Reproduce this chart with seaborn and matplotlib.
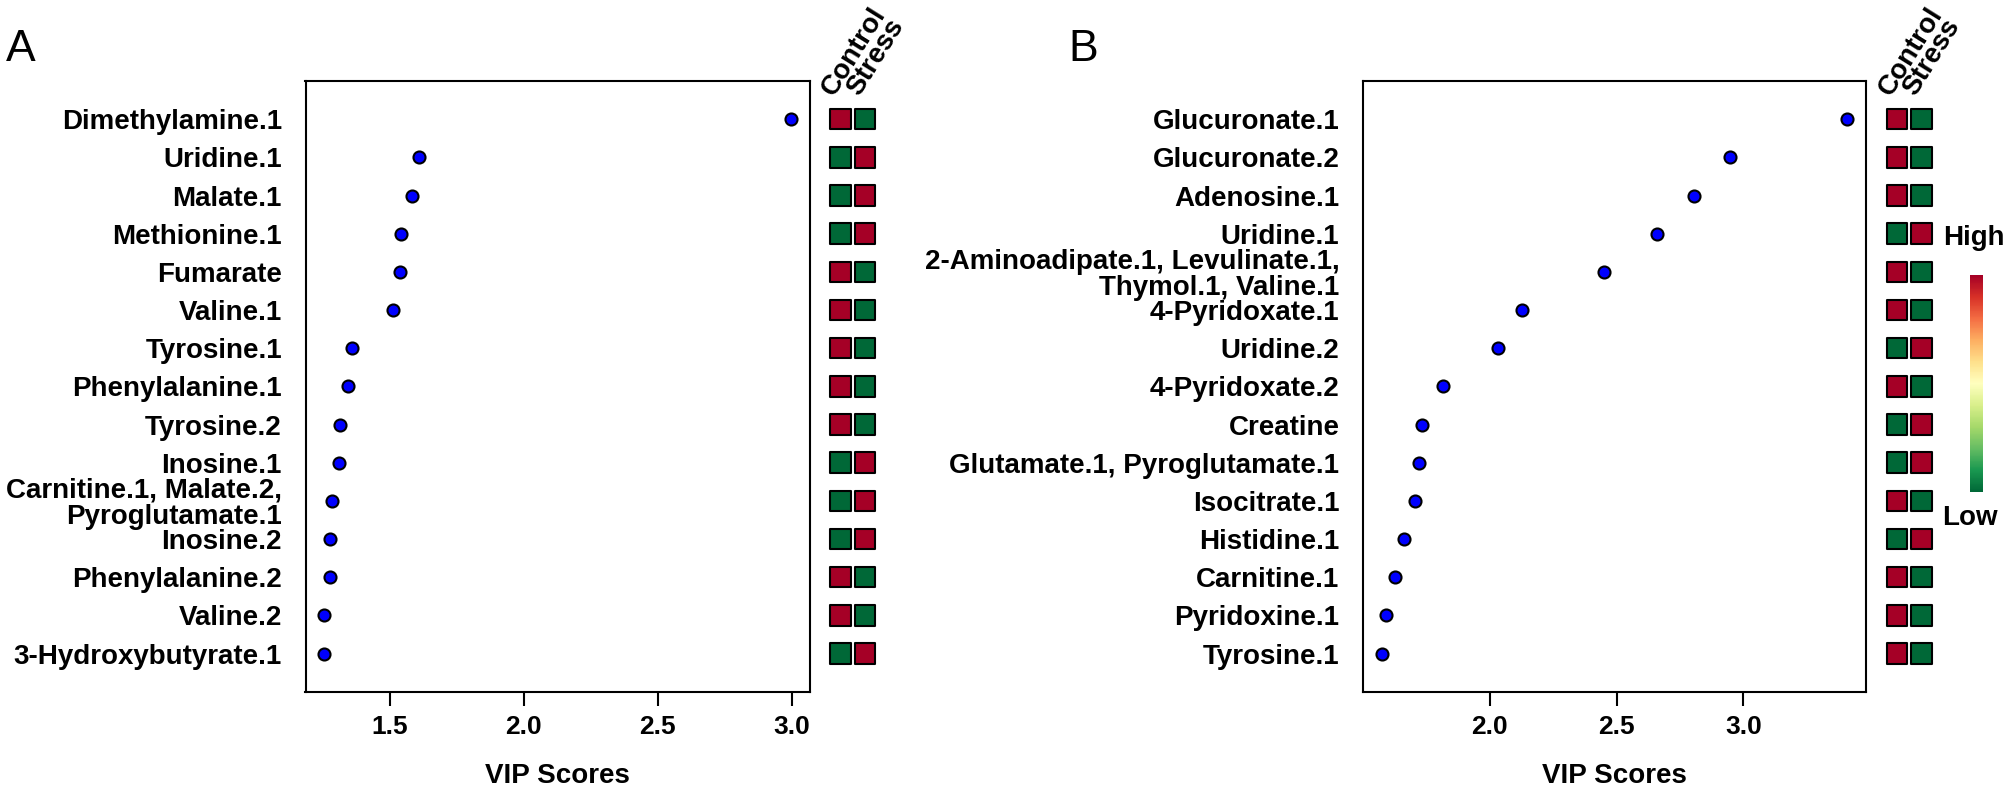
import numpy as np
import pandas as pd
import seaborn as sns
import matplotlib.pyplot as plt
from matplotlib.cm import ScalarMappable

# panel A: top VIP metabolites
names_a = ["Dimethylamine.1", "Uridine.1", "Malate.1", "Methionine.1", "Fumarate",
           "Valine.1", "Tyrosine.1", "Phenylalanine.1", "Tyrosine.2", "Inosine.1",
           "Carnitine.1, Malate.2,\nPyroglutamate.1", "Inosine.2", "Phenylalanine.2",
           "Valine.2", "3-Hydroxybutyrate.1"]
vip_a = [2.998, 1.609, 1.583, 1.541, 1.540, 1.514, 1.359, 1.344, 1.316, 1.311,
         1.284, 1.279, 1.277, 1.256, 1.256]
control_high_a = [True, False, False, False, True, True, True, True, True, False,
                  False, False, True, True, False]
ticks_a = [1.5, 2.0, 2.5, 3.0]

# panel B
names_b = ["Glucuronate.1", "Glucuronate.2", "Adenosine.1", "Uridine.1",
           "2-Aminoadipate.1, Levulinate.1,\nThymol.1, Valine.1", "4-Pyridoxate.1",
           "Uridine.2", "4-Pyridoxate.2", "Creatine", "Glutamate.1, Pyroglutamate.1",
           "Isocitrate.1", "Histidine.1", "Carnitine.1", "Pyridoxine.1", "Tyrosine.1"]
vip_b = [3.411, 2.949, 2.805, 2.661, 2.450, 2.126, 2.031, 1.816, 1.732, 1.721,
         1.705, 1.660, 1.626, 1.589, 1.573]
control_high_b = [True, True, True, False, True, True, False, True, False, False,
                  True, False, True, True, True]
ticks_b = [2.0, 2.5, 3.0]

groups = ["Control", "Stress"]

sns.set_theme(style="white")
plt.rcParams["font.family"] = ["Liberation Sans", "DejaVu Sans"]
plt.rcParams.update({"text.color": "black", "axes.labelcolor": "black",
                     "xtick.color": "black", "ytick.color": "black"})

W, H = 2006, 795
TOP, BOT = 81, 691.7
FS = 20

fig = plt.figure(figsize=(W / 100, H / 100), dpi=100)


def panel(x0, x1, sq0, names, vip, ctrl_high, ticks, letter, letter_x):
    n = len(names)
    ax = fig.add_axes([x0 / W, 1 - BOT / H, (x1 - x0) / W, (BOT - TOP) / H])
    df = pd.DataFrame({"name": names, "vip": vip, "rank": np.arange(1, n + 1)})
    sns.scatterplot(data=df, x="vip", y="rank", color="#0000FF", edgecolor="black",
                    linewidth=1.5, s=75, ax=ax, legend=False, zorder=3)
    lo, hi = min(vip), max(vip)
    r = hi - lo
    ax.set_xlim(lo - 0.04 * r, hi + 0.04 * r)
    ax.set_ylim(n + 1, 0)
    ax.set_yticks(df["rank"], names, fontsize=FS, fontweight="bold", linespacing=1.0)
    ax.set_xticks(ticks, [f"{t:.1f}" for t in ticks], fontsize=19, fontweight="bold")
    ax.tick_params(axis="y", length=0, pad=17)
    ax.tick_params(axis="x", length=10, width=1.5, pad=7, bottom=True)
    ax.set_xlabel("VIP Scores", fontsize=FS, fontweight="bold", labelpad=17)
    ax.set_ylabel("")
    for s in ax.spines.values():
        s.set_color("black")
        s.set_linewidth(1.5)

    # control / stress squares
    axs = fig.add_axes([sq0 / W, 1 - BOT / H, 74.1 / W, (BOT - TOP) / H])
    rows = []
    for i, h in enumerate(ctrl_high):
        rows.append({"rank": i + 1, "col": 1, "level": "High" if h else "Low"})
        rows.append({"rank": i + 1, "col": 2, "level": "Low" if h else "High"})
    sq = pd.DataFrame(rows)
    sns.scatterplot(data=sq, x="col", y="rank", hue="level",
                    palette={"High": "#A50026", "Low": "#006837"}, marker="s",
                    s=216, edgecolor="black", linewidth=1.5, legend=False, ax=axs)
    axs.set_xlim(0, 3)
    axs.set_ylim(n + 1, 0)
    axs.axis("off")
    for j, g in enumerate(groups):
        axs.text(j + 1 - 0.25, 0.42, g, rotation=58, rotation_mode="anchor",
                 ha="left", va="baseline", fontsize=FS, fontweight="bold",
                 clip_on=False)

    fig.text(letter_x / W, 1 - 61 / H, letter, fontsize=32, ha="left", va="baseline")


panel(305.5, 810, 815.8, names_a, vip_a, control_high_a, ticks_a, "A", 6)
panel(1363, 1866, 1872.3, names_b, vip_b, control_high_b, ticks_b, "B", 1068)

# colour key
cax = fig.add_axes([1970 / W, 1 - 492 / H, 13 / W, 217 / H])
cb = fig.colorbar(ScalarMappable(cmap="RdYlGn_r"), cax=cax)
cb.set_ticks([])
cb.outline.set_visible(False)
fig.text(1974 / W, 1 - 238 / H, "High", fontsize=FS, fontweight="bold",
         ha="center", va="center")
fig.text(1970 / W, 1 - 518 / H, "Low", fontsize=FS, fontweight="bold",
         ha="center", va="center")

fig.savefig("out.png", dpi=100)
